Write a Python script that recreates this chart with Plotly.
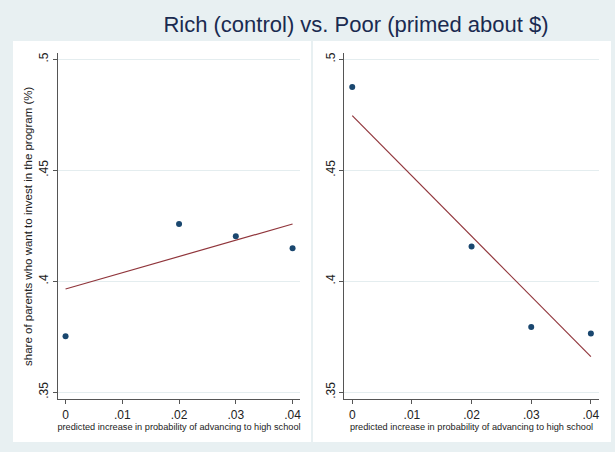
import plotly.graph_objects as go

# Binned scatter data: predicted increase in probability vs share wanting to invest
x_bins = [0.0, 0.02, 0.03, 0.04]
rich_share = [0.3752, 0.4258, 0.4203, 0.4149]
poor_share = [0.4875, 0.4156, 0.3794, 0.3764]

# Fitted-line endpoints for each group
fit_x = [0.0, 0.04]
rich_fit = [0.3965, 0.4258]
poor_fit = [0.4746, 0.3660]

x_tickvals = [0, 0.01, 0.02, 0.03, 0.04]
x_ticktext = ["0", ".01", ".02", ".03", ".04"]
y_tickvals = [0.35, 0.40, 0.45, 0.50]
y_ticktext = [".35", ".4", ".45", ".5"]

title_text = "Rich (control) vs. Poor (primed about $)"
x_title = "predicted increase in probability of advancing to high school"
y_title = "share of parents who want to invest in the program (%)"

W, H = 615, 452
FONT = "Arial, Liberation Sans, sans-serif"
MARKER = "#1a476f"
LINE = "#90353b"
AXIS = "#555555"
GRID = "#e4edef"
BG = "#e8f0f2"

fig = go.Figure()

for xa, ya, pts, fit in [("x", "y", rich_share, rich_fit), ("x2", "y2", poor_share, poor_fit)]:
    fig.add_trace(go.Scatter(x=x_bins, y=pts, mode="markers", xaxis=xa, yaxis=ya,
                             marker=dict(color=MARKER, size=6), showlegend=False))
    fig.add_trace(go.Scatter(x=fit_x, y=fit, mode="lines", xaxis=xa, yaxis=ya,
                             line=dict(color=LINE, width=1.2), showlegend=False))

xr = [-0.00133, 0.04131]
yr = [0.3468, 0.5027]
ydom = [1 - 399.3 / H, 1 - 53.3 / H]

common_x = dict(range=xr, tickvals=x_tickvals, ticktext=x_ticktext, showgrid=False,
                zeroline=False, showline=True, linecolor=AXIS, linewidth=1,
                ticks="outside", ticklen=4, tickcolor=AXIS,
                tickfont=dict(family=FONT, size=12, color="#222222"),
                title=dict(text=x_title, font=dict(family=FONT, size=9.2, color="#222222"),
                           standoff=0))
common_y = dict(range=yr, domain=ydom, tickvals=y_tickvals, ticktext=y_ticktext,
                showgrid=True, gridcolor=GRID, gridwidth=1, zeroline=False,
                showline=True, linecolor=AXIS, linewidth=1,
                ticks="outside", ticklen=4, tickcolor=AXIS, tickangle=-90,
                tickfont=dict(family=FONT, size=12, color="#222222"))

fig.update_layout(
    width=W, height=H,
    margin=dict(l=0, r=0, t=0, b=0),
    paper_bgcolor=BG,
    plot_bgcolor="white",
    title=dict(text=title_text, x=356 / W, xanchor="center", y=1 - 24 / H, yanchor="middle",
               font=dict(family=FONT, size=22, color="#1a2a50")),
    xaxis=dict(domain=[58 / W, 300 / W], anchor="y", **common_x),
    xaxis2=dict(domain=[344.3 / W, 598.7 / W], anchor="y2", **common_x),
    yaxis=dict(anchor="x",
               title=dict(text=y_title, font=dict(family=FONT, size=11.5, color="#222222"),
                          standoff=2),
               **common_y),
    yaxis2=dict(anchor="x2", **common_y),
    shapes=[
        dict(type="rect", xref="paper", yref="paper", layer="below",
             x0=13 / W, x1=311 / W, y0=1 - 442 / H, y1=1 - 41 / H,
             fillcolor="white", line=dict(width=0)),
        dict(type="rect", xref="paper", yref="paper", layer="below",
             x0=313 / W, x1=611 / W, y0=1 - 442 / H, y1=1 - 41 / H,
             fillcolor="white", line=dict(width=0)),
    ],
)

fig.write_html("out.html")
